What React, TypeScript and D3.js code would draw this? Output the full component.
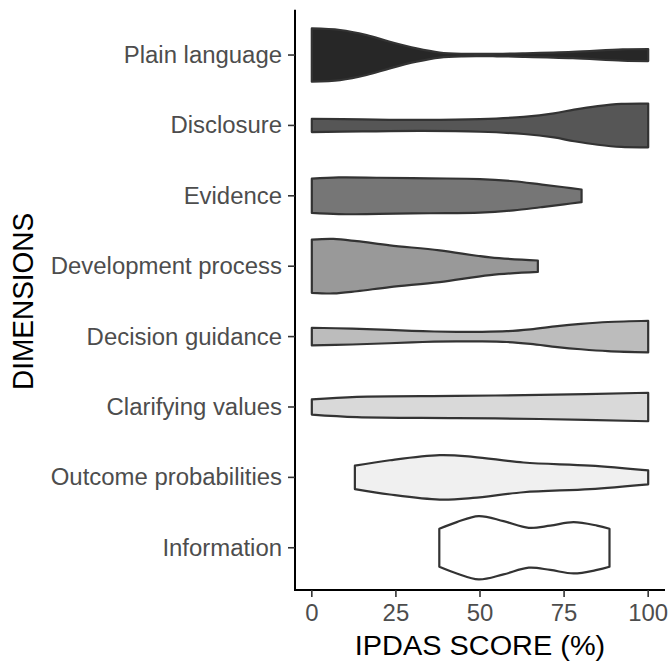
import React from "react";
import * as d3 from "d3";

const categories = [
  "Plain language",
  "Disclosure",
  "Evidence",
  "Development process",
  "Decision guidance",
  "Clarifying values",
  "Outcome probabilities",
  "Information",
];

const fills = ["#272727", "#565656", "#767676", "#999999", "#bcbcbc", "#d9d9d9", "#f0f0f0", "#ffffff"];

// [score %, relative density (1 = widest violin)]
const plainLanguage: [number, number][] = [
  [0, 0.84], [8.4, 0.79], [16.3, 0.63], [23.2, 0.42], [31.1, 0.21], [38, 0.08],
  [44.9, 0.04], [55, 0.04], [62.7, 0.055], [77.6, 0.1], [92.4, 0.18], [100, 0.19],
];
const disclosure: [number, number][] = [
  [0, 0.21], [15, 0.19], [33, 0.175], [50, 0.2], [63, 0.27], [72, 0.38],
  [78, 0.5], [85, 0.61], [92, 0.68], [100, 0.69],
];
const evidence: [number, number][] = [
  [0, 0.54], [8, 0.58], [20, 0.57], [35, 0.55], [50, 0.53], [60, 0.46],
  [68, 0.36], [75, 0.27], [80.2, 0.2],
];
const developmentProcess: [number, number][] = [
  [0, 0.84], [6.4, 0.86], [13.4, 0.79], [23.2, 0.66], [38, 0.5], [53, 0.28], [67.2, 0.18],
];
const decisionGuidance: [number, number][] = [
  [0, 0.28], [12, 0.25], [23, 0.21], [33, 0.17], [43, 0.15], [50, 0.15], [58, 0.17],
  [65, 0.23], [73, 0.33], [80, 0.4], [88, 0.46], [100, 0.5],
];
const clarifyingValues: [number, number][] = [
  [0, 0.24], [13.4, 0.32], [43, 0.35], [67.8, 0.38], [100, 0.45],
];
const outcomeProbabilities: [number, number][] = [
  [12.8, 0.37], [23.2, 0.54], [38, 0.7], [47.9, 0.65], [62.9, 0.47], [82.7, 0.37], [100, 0.22],
];
const information: [number, number][] = [
  [37.9, 0.6], [43.1, 0.81], [49.6, 1.0], [57, 0.84], [64.5, 0.63], [70.9, 0.7],
  [77.8, 0.81], [84.8, 0.7], [88.5, 0.6],
];

const profiles = [
  plainLanguage, disclosure, evidence, developmentProcess,
  decisionGuidance, clarifyingValues, outcomeProbabilities, information,
];

const xTicks = [0, 25, 50, 75, 100];

const W = 670;
const H = 661;
const margin = { left: 295, right: 5, top: 12.8, bottom: 71 };
const SX_TICK = 1.04;
const SX_TITLE = 1.07;

export default function App() {
  const x = d3.scaleLinear().domain([-5, 105]).range([margin.left, W - margin.right]);
  const y = d3
    .scalePoint<string>()
    .domain(categories)
    .range([margin.top, H - margin.bottom])
    .padding(0.6);
  const step = y.step();
  const halfW = d3.scaleLinear().domain([0, 1]).range([0, step * 0.45]);
  const font = "'Liberation Sans', Arial, Helvetica, sans-serif";
  const bottom = H - margin.bottom;

  return (
    <svg
      width={W}
      height={H}
      style={{ position: "absolute", left: 0, top: 0, background: "#fff" }}
    >
      {categories.map((c, i) => {
        const cy = y(c)!;
        const area = d3
          .area<[number, number]>()
          .x((d) => x(d[0]))
          .y0((d) => cy - halfW(d[1]))
          .y1((d) => cy + halfW(d[1]))
          .curve(d3.curveCatmullRom.alpha(0.5));
        return (
          <path
            key={c}
            d={area(profiles[i]) || ""}
            fill={fills[i]}
            stroke="#333333"
            strokeWidth={2.2}
            strokeLinejoin="round"
          />
        );
      })}
      {/* axes */}
      <line x1={margin.left} x2={margin.left} y1={margin.top - 3} y2={bottom} stroke="#000" strokeWidth={2} />
      <line x1={margin.left - 1} x2={W - margin.right} y1={bottom} y2={bottom} stroke="#000" strokeWidth={2} />
      {categories.map((c) => (
        <g key={c}>
          <line x1={margin.left - 7} x2={margin.left} y1={y(c)} y2={y(c)} stroke="#333" strokeWidth={1.6} />
          <text
            transform={`translate(${margin.left - 13}, ${y(c)}) scale(${SX_TICK}, 1)`}
            dy="0.35em"
            textAnchor="end"
            fontFamily={font}
            fontSize={23}
            fill="#4d4d4d"
          >
            {c}
          </text>
        </g>
      ))}
      {xTicks.map((t) => (
        <g key={t}>
          <line x1={x(t)} x2={x(t)} y1={bottom} y2={bottom + 7} stroke="#333" strokeWidth={1.6} />
          <text
            transform={`translate(${x(t)}, ${bottom + 31}) scale(${SX_TICK}, 1)`}
            textAnchor="middle"
            fontFamily={font}
            fontSize={23}
            fill="#4d4d4d"
          >
            {t}
          </text>
        </g>
      ))}
      <text
        transform={`translate(${(margin.left + W - margin.right) / 2}, 655) scale(${SX_TITLE}, 1)`}
        textAnchor="middle"
        fontFamily={font}
        fontSize={27}
        fill="#000"
      >
        IPDAS SCORE (%)
      </text>
      <text
        transform={`translate(33, ${(margin.top + bottom) / 2}) scale(${SX_TITLE}, 1) rotate(-90)`}
        textAnchor="middle"
        fontFamily={font}
        fontSize={28}
        fill="#000"
      >
        DIMENSIONS
      </text>
    </svg>
  );
}
